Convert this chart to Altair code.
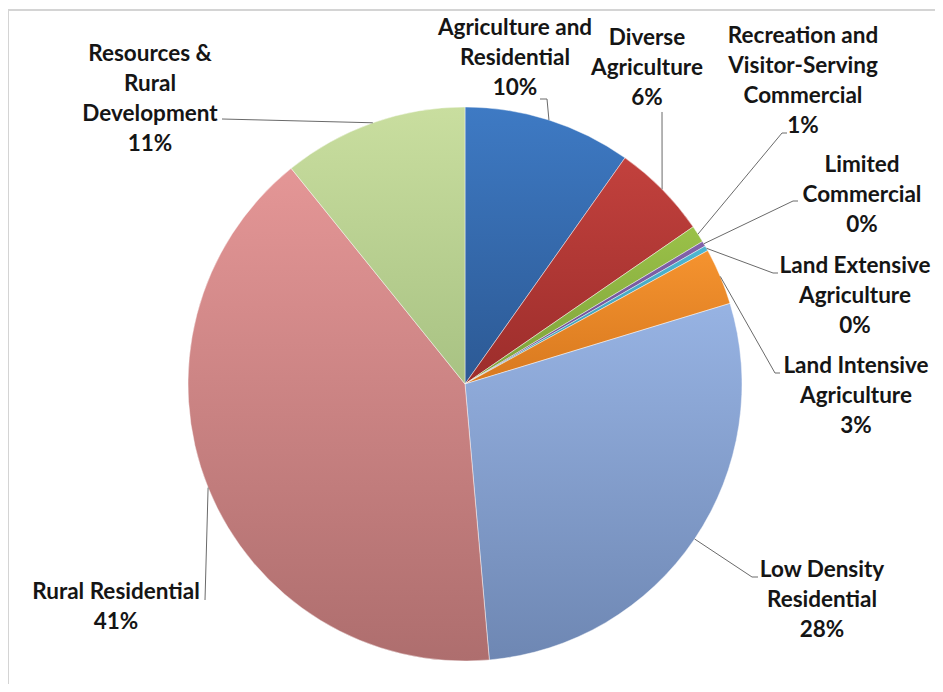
import altair as alt
import pandas as pd

# ---------------- data ----------------
categories = [
    "Agriculture and Residential",
    "Diverse Agriculture",
    "Recreation and Visitor-Serving Commercial",
    "Limited Commercial",
    "Land Extensive Agriculture",
    "Land Intensive Agriculture",
    "Low Density Residential",
    "Rural Residential",
    "Resources & Rural Development",
]
shares = [9.8, 5.6, 1.0, 0.3, 0.3, 3.3, 28.3, 40.6, 10.8]

label_lines = [
    "Agriculture and\nResidential",
    "Diverse\nAgriculture",
    "Recreation and\nVisitor-Serving\nCommercial",
    "Limited\nCommercial",
    "Land Extensive\nAgriculture",
    "Land Intensive\nAgriculture",
    "Low Density\nResidential",
    "Rural Residential",
    "Resources &\nRural\nDevelopment",
]

# ---------------- style ----------------
top_colors = ["#3E7AC4", "#C2413D", "#9AC148", "#8262AA", "#4DB6D1",
              "#F5932F", "#97B3E3", "#E49696", "#C9DE9F"]
bottom_colors = ["#2C5994", "#9C2D2B", "#7DA13A", "#684C8E", "#3B97AF",
                 "#D8791F", "#6E87B3", "#AE6E6E", "#A8C283"]

# ---------------- layout (page pixels) ----------------
OFF = 8
CX, CY, R = 465 - OFF, 384 - OFF, 277
label_x = [515, 647, 803, 862, 855, 856, 822, 116, 150]
label_y = [35, 45, 43, 172, 273, 373, 577, 599, 61]
elbow_x = [547, 662, 782, 793, 773, 775, 752, 205, 222]
elbow_y = [99, 112, 133, 201, 273, 373, 577, 600, 119]
stub_x = [540, 662, 787, 798, 778, 780, 758, 205, 222]

df = pd.DataFrame({
    "order": list(range(len(categories))),
    "category": categories,
    "share": shares,
    "label": label_lines,
    "lx": [v - OFF for v in label_x],
    "ly": [v - OFF for v in label_y],
    "bx": [v - OFF for v in elbow_x],
    "by": [v - OFF for v in elbow_y],
    "tx": [v - OFF for v in stub_x],
})

W, H = 927, 676

base = (
    alt.Chart(df)
    .transform_joinaggregate(total="sum(share)")
    .transform_window(cum="sum(share)", sort=[alt.SortField("order")], frame=[None, 0])
    .transform_calculate(
        start="(datum.cum - datum.share) / datum.total * 100",
        end="datum.cum / datum.total * 100",
        ang="(datum.cum - datum.share / 2) / datum.total * 2 * PI",
    )
    .transform_calculate(
        ex=f"{CX} + {R} * sin(datum.ang)",
        ey=f"{CY} - {R} * cos(datum.ang)",
        txt="datum.label + '\\n' + format(datum.share / datum.total * 100, '.0f') + '%'",
    )
)

arcs = []
for i in range(len(categories)):
    grad = alt.LinearGradient(
        gradient="linear",
        stops=[alt.GradientStop(color=top_colors[i], offset=0),
               alt.GradientStop(color=bottom_colors[i], offset=1)],
        x1=0, x2=0, y1=0, y2=1,
    )
    arcs.append(
        base.mark_arc(fill=grad, stroke="#ffffff", strokeWidth=0.8, strokeOpacity=0.55)
        .transform_filter(alt.datum.order == i)
        .encode(
            theta=alt.Theta("start:Q", scale=alt.Scale(domain=[0, 100])),
            theta2="end:Q",
            x=alt.value(CX),
            y=alt.value(CY),
            radius=alt.value(R),
        )
    )

leaders = base.mark_rule(color="#6a6a6a", strokeWidth=1).encode(
    x=alt.X("ex:Q", scale=None),
    y=alt.Y("ey:Q", scale=None),
    x2="bx:Q",
    y2="by:Q",
)
stubs = base.mark_rule(color="#6a6a6a", strokeWidth=1).encode(
    x=alt.X("bx:Q", scale=None),
    x2="tx:Q",
    y=alt.Y("by:Q", scale=None),
)

labels = base.mark_text(
    font="Lato", fontSize=22.5, fontWeight="bold", lineBreak="\n", lineHeight=30,
    align="center", baseline="alphabetic", color="#151515",
).encode(
    x=alt.X("lx:Q", scale=None),
    y=alt.Y("ly:Q", scale=None),
    text="txt:N",
)

frame_data = alt.Data(values=[{"k": 1}])
frame_top = alt.Chart(frame_data).mark_rule(color="#d4d4d4", strokeWidth=2).encode(
    x=alt.value(0), x2=alt.value(W), y=alt.value(2)
)
frame_left = alt.Chart(frame_data).mark_rule(color="#d4d4d4", strokeWidth=2).encode(
    x=alt.value(0), y=alt.value(2), y2=alt.value(H)
)

chart = (
    alt.layer(frame_top, frame_left, *arcs, leaders, stubs, labels)
    .properties(width=W, height=H, padding=0, autosize=alt.AutoSizeParams(type="none"))
    .configure_view(stroke=None)
)

chart.save("out.html", embed_options={"renderer": "svg", "actions": False})
